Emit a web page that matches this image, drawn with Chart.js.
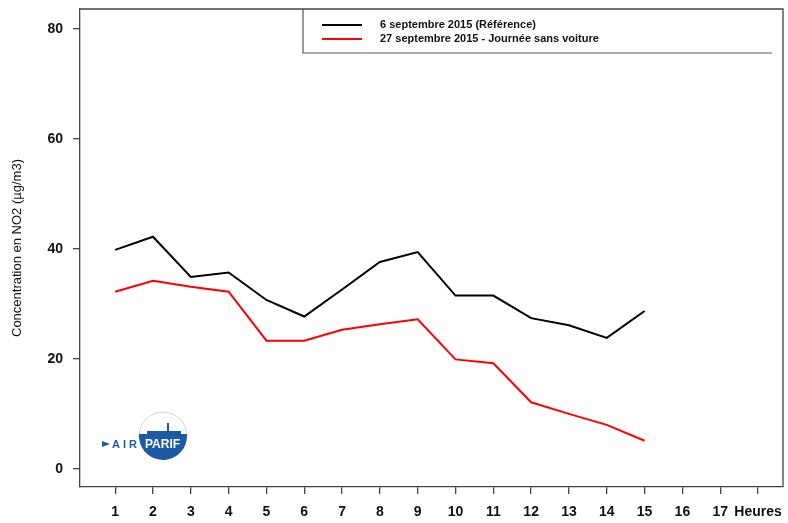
<!DOCTYPE html>
<html>
<head>
<meta charset="utf-8">
<script src="https://cdn.jsdelivr.net/npm/chart.js@4.4.0/dist/chart.umd.min.js"></script>
<style>
  html, body { margin: 0; padding: 0; background: #fff; }
  #wrap { width: 788px; height: 523px; }
</style>
</head>
<body>
<div id="wrap"><canvas id="no2Chart"></canvas></div>
<script>

  // hours of the day (x axis)
  const hours       = [1, 2, 3, 4, 5, 6, 7, 8, 9, 10, 11, 12, 13, 14, 15];
  const xTickValues = [1, 2, 3, 4, 5, 6, 7, 8, 9, 10, 11, 12, 13, 14, 15, 16, 17, 18];
  const xTickLabels = ["1", "2", "3", "4", "5", "6", "7", "8", "9", "10", "11", "12", "13", "14", "15", "16", "17", "Heures"];
  const yTickValues = [0, 20, 40, 60, 80];

  // NO2 concentration, µg/m3
  const reference6Sept  = [39.8, 42.2, 34.9, 35.7, 30.7, 27.7, 32.6, 37.6, 39.4, 31.5, 31.5, 27.4, 26.1, 23.8, 28.7];
  const sansVoiture27   = [32.2, 34.2, 33.1, 32.2, 23.3, 23.3, 25.3, 26.3, 27.2, 19.9, 19.2, 12.1, 10.0, 8.0, 5.1];

  const seriesLabels = ["6 septembre 2015 (Référence)", "27 septembre 2015 - Journée sans voiture"];
  const seriesColors = ["#000000", "#ff0000"];
  const yTitle = "Concentration en NO2 (µg/m3)";

  function toPoints(values)
  {
      return values.map((v, i) => ({ x: hours[i], y: v }));
  }

  /**=================================================================
   *   box around the plot, legend box and the Airparif logo
   =================================================================*/
  const decorPlugin = {
      id: "decor",
      afterDraw(chart)
      {
          const ctx = chart.ctx;
          const a = chart.chartArea;
          ctx.save();

          // frame
          ctx.strokeStyle = "#444";
          ctx.lineWidth = 1.3;
          ctx.beginPath();
          ctx.moveTo(a.left, a.top);
          ctx.lineTo(a.right, a.top);
          ctx.lineTo(a.right, a.bottom);
          ctx.stroke();

          // legend box
          ctx.strokeStyle = "#555";
          ctx.lineWidth = 1.2;
          ctx.beginPath();
          ctx.moveTo(303, a.top);
          ctx.lineTo(303, 53);
          ctx.lineTo(772, 53);
          ctx.stroke();

          ctx.font = "bold 11px 'Liberation Sans', Arial, sans-serif";
          ctx.textBaseline = "middle";
          ctx.textAlign = "left";
          for (let i = 0; i < seriesLabels.length; i++)
          {
              const y = 25 + i * 14;
              ctx.strokeStyle = seriesColors[i];
              ctx.lineWidth = 2;
              ctx.beginPath();
              ctx.moveTo(322, y);
              ctx.lineTo(362, y);
              ctx.stroke();
              ctx.fillStyle = "#111";
              ctx.fillText(seriesLabels[i], 380, y);
          }

          // logo
          const cx = 163, cy = 436, r = 24;
          ctx.strokeStyle = "#c3d5ea";
          ctx.lineWidth = 1;
          ctx.beginPath();
          ctx.arc(cx, cy, r, Math.PI, 2 * Math.PI);
          ctx.stroke();
          ctx.fillStyle = "#1d5aa6";
          ctx.beginPath();
          ctx.moveTo(cx - r, cy - 2);
          ctx.lineTo(cx + r, cy - 2);
          ctx.arc(cx, cy, r, -0.08, Math.PI + 0.08);
          ctx.closePath();
          ctx.fill();
          ctx.fillRect(cx + 4, cy - 13, 2, 12);
          ctx.fillRect(cx - 16, cy - 5, 34, 4);
          ctx.beginPath();
          ctx.moveTo(102, 441);
          ctx.lineTo(110, 444);
          ctx.lineTo(102, 447);
          ctx.closePath();
          ctx.fill();
          ctx.font = "bold 11px 'Liberation Sans', Arial, sans-serif";
          ctx.textBaseline = "middle";
          ctx.fillText("A I R", 112, 445);
          ctx.fillStyle = "#fff";
          ctx.font = "bold 12px 'Liberation Sans', Arial, sans-serif";
          ctx.fillText("PARIF", 145, 445);

          ctx.restore();
      }
  };

  const ctx = document.getElementById("no2Chart");
  const no2Chart = new Chart(ctx, {
      type: "line",
      data: {
          datasets: [
              {
                  label: seriesLabels[0],
                  data: toPoints(reference6Sept),
                  borderColor: seriesColors[0],
                  borderWidth: 2,
                  pointRadius: 0,
                  tension: 0
              },
              {
                  label: seriesLabels[1],
                  data: toPoints(sansVoiture27),
                  borderColor: seriesColors[1],
                  borderWidth: 2,
                  pointRadius: 0,
                  tension: 0
              }
          ]
      },
      options: {
          responsive: true,
          maintainAspectRatio: false,
          animation: false,
          layout: { padding: { top: 9, right: 5, left: 0, bottom: 0 } },
          plugins: {
              legend: { display: false },
              tooltip: { enabled: false }
          },
          scales: {
              x: {
                  type: "linear",
                  min: 0.07,
                  max: 18.66,
                  afterBuildTicks: (scale) => { scale.ticks = xTickValues.map(v => ({ value: v })); },
                  afterFit: (scale) => { scale.height = 36; scale.paddingLeft = 0; scale.paddingRight = 0; },
                  grid: { display: true, drawOnChartArea: false, drawTicks: true, tickLength: 7, color: "#444", lineWidth: 1.3 },
                  border: { display: true, color: "#444", width: 1.3 },
                  ticks: {
                      autoSkip: false,
                      maxRotation: 0,
                      padding: 10,
                      color: "#111",
                      font: { family: "'Liberation Sans', Arial, sans-serif", size: 14, weight: "bold" },
                      callback: (v) => { const k = xTickValues.indexOf(v); return k >= 0 ? xTickLabels[k] : ""; }
                  }
              },
              y: {
                  min: -3.3,
                  max: 83.6,
                  afterBuildTicks: (scale) => { scale.ticks = yTickValues.map(v => ({ value: v })); },
                  afterFit: (scale) => { scale.width = 80; scale.paddingTop = 0; scale.paddingBottom = 0; },
                  grid: { display: true, drawOnChartArea: false, drawTicks: true, tickLength: 7, color: "#444", lineWidth: 1.3 },
                  border: { display: true, color: "#444", width: 1.3 },
                  title: {
                      display: true,
                      text: yTitle,
                      color: "#111",
                      padding: { top: 10, bottom: 0 },
                      font: { family: "'Liberation Sans', Arial, sans-serif", size: 13 }
                  },
                  ticks: {
                      padding: 10,
                      color: "#111",
                      font: { family: "'Liberation Sans', Arial, sans-serif", size: 14, weight: "bold" }
                  }
              }
          }
      },
      plugins: [decorPlugin]
  });

</script>
</body>
</html>
